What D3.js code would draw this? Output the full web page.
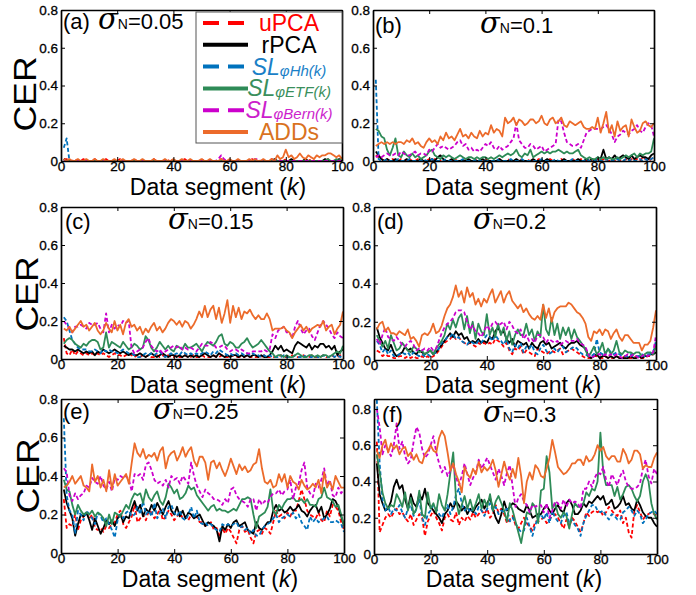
<!DOCTYPE html>
<html>
<head>
<meta charset="utf-8">
<script src="https://cdn.jsdelivr.net/npm/d3@7"></script>
<style>
  body { margin: 0; background: #fff; }
  svg text { font-family: "Liberation Sans", Arial, Helvetica, sans-serif; }
</style>
</head>
<body>
<div id="chart"></div>
<script>
// data segment index k and shared tick values
var segments = d3.range(1, 101);
var xTickValues = [0, 20, 40, 60, 80, 100];
var yTickValues = [0, 0.2, 0.4, 0.6, 0.8];
var methods = ["uPCA", "rPCA", "SL_Hh", "SL_ETF", "SL_Bern", "ADDs"];
var panelTags = ["(a)", "(b)", "(c)", "(d)", "(e)", "(f)"];
var noiseLevels = ["0.05", "0.1", "0.15", "0.2", "0.25", "0.3"];
var yMax = [0.8, 0.8, 0.8, 0.8, 0.8, 0.855];

// CER values, in hundredths, one entry per data segment k = 1..100
// (a) sigma_N = 0.05
var a_uPCA = [1,1,0,0,1,0,0,1,0,0, 0,1,0,0,0,1,0,0,0,0, 1,0,0,0,0,1,0,0,0,0, 0,0,1,0,0,0,0,0,1,0, 0,0,0,1,0,0,0,0,0,1,
              0,0,0,0,0,0,1,0,0,0, 0,0,0,0,0,0,0,1,0,0, 0,0,0,0,1,0,0,0,0,1, 0,0,0,0,0,0,0,0,1,0, 0,0,0,0,1,0,0,1,0,0];
var a_rPCA = [1,0,0,0,0,0,0,0,0,0, 0,0,0,0,0,0,0,0,0,0, 0,0,0,0,0,0,0,0,0,0, 0,0,0,0,0,0,0,0,0,0, 0,0,0,0,0,0,0,0,0,0,
              0,0,0,0,0,0,0,0,0,0, 0,0,0,0,0,0,0,0,0,0, 0,0,0,0,0,1,0,0,0,0, 0,1,0,0,0,0,1,0,0,0, 0,0,0,1,0,0,0,0,1,0];
var a_Hh   = [7,12,0,0,0,0,0,0,0,0, 0,0,0,0,0,0,0,0,0,0, 0,0,0,0,0,0,0,0,0,0, 0,0,0,0,0,0,0,0,0,0, 0,0,0,0,0,0,0,0,0,0,
              0,0,0,0,0,0,0,0,0,0, 0,0,0,0,0,0,0,0,0,0, 0,0,0,0,0,0,0,0,0,0, 0,0,0,0,0,0,0,0,0,0, 0,0,0,0,0,0,0,0,0,0];
var a_ETF  = [0,0,0,0,0,0,0,0,0,0, 0,0,0,0,0,0,0,0,0,0, 0,0,0,0,0,0,0,0,0,0, 0,0,0,0,0,0,0,0,0,0, 0,0,0,0,0,0,0,0,0,0,
              0,0,0,0,0,0,0,0,0,0, 0,0,0,0,0,0,0,0,0,0, 0,0,0,0,0,0,0,0,0,0, 0,0,0,0,0,0,0,0,0,0, 0,0,0,0,1,0,0,1,0,2];
var a_Bern = [0,0,0,0,0,0,0,0,0,0, 0,0,0,0,0,0,0,0,0,0, 0,0,0,0,0,0,0,0,0,0, 0,0,0,0,0,0,0,0,0,0, 0,0,0,0,0,0,0,0,0,0,
              0,0,0,0,0,1,3,1,0,0, 0,0,0,0,0,0,0,0,1,1, 0,0,0,0,0,0,0,0,0,0, 0,0,0,0,0,0,0,0,0,0, 0,0,0,0,0,0,0,0,0,0];
var a_ADDs = [1,0,1,0,0,1,0,0,1,0, 0,1,0,0,1,0,0,0,1,0, 0,1,0,0,0,1,0,0,1,0, 0,0,1,0,0,0,1,0,0,1, 0,0,1,0,0,1,0,0,0,1,
              0,0,1,0,0,0,1,0,0,1, 0,0,1,0,0,0,1,0,1,0, 0,1,0,0,1,0,3,1,2,6, 2,3,1,2,4,2,1,3,2,1, 3,2,3,3,4,4,3,2,3,1];

// (b) sigma_N = 0.1
var b_uPCA = [3,2,1,0,1,0,1,0,0,1, 0,0,1,0,0,1,0,0,0,1, 0,1,0,0,1,0,0,0,1,0, 0,0,1,0,0,0,1,0,0,0, 1,0,0,0,1,0,0,1,0,0,
              0,1,0,0,0,1,0,0,1,0, 0,0,1,0,0,0,1,0,0,0, 1,0,0,1,0,0,0,1,0,1, 0,1,0,0,1,0,1,0,0,1, 0,1,0,1,0,2,1,0,1,2];
var b_rPCA = [5,3,1,0,1,0,0,1,0,0, 0,1,0,0,0,0,1,0,0,0, 1,0,2,3,1,0,0,1,0,0, 0,0,0,1,0,0,0,0,1,0, 0,0,0,0,1,0,0,0,0,0,
              1,0,0,0,0,0,1,0,0,0, 0,1,0,0,0,0,0,1,0,0, 0,0,1,0,0,1,0,1,0,2, 1,6,1,2,1,3,1,2,3,2, 1,3,1,2,3,2,2,1,3,4];
var b_Hh   = [43,1,0,0,1,0,0,0,1,0, 0,0,1,0,0,0,0,1,0,0, 1,0,0,0,0,1,0,0,0,0, 0,1,0,0,0,0,1,0,0,0, 0,0,0,1,0,0,0,0,1,0,
              0,0,1,0,0,0,0,0,0,1, 0,0,0,0,1,0,0,0,0,0, 1,0,0,0,0,1,0,0,0,1, 0,0,1,0,0,0,1,0,0,1, 0,1,0,0,1,0,1,0,1,2];
var b_ETF  = [17,16,13,12,6,3,7,12,3,2, 5,3,2,4,2,3,1,2,3,5, 6,3,2,1,3,2,3,2,1,2, 3,2,1,2,2,1,2,1,2,2, 1,2,1,2,3,2,3,4,3,4,
              6,3,2,4,3,6,2,3,4,5, 4,5,4,5,5,6,5,4,5,4, 4,5,6,3,2,1,2,1,1,2, 1,2,1,2,1,1,2,1,2,3, 2,3,4,2,4,3,4,4,5,12];
var b_Bern = [2,3,2,3,4,3,3,4,3,5, 4,3,3,4,5,3,4,4,3,6, 5,7,9,7,8,7,6,7,8,10, 11,8,9,6,7,5,6,5,7,9, 8,10,7,6,8,6,7,8,10,12,
              20,11,9,7,7,9,8,6,7,8, 5,6,7,8,9,22,21,15,10,9, 8,8,9,7,11,15,16,17,17,17, 17,18,19,17,14,10,13,14,16,15, 14,16,17,19,16,15,18,20,19,13];
var b_ADDs = [8,9,10,9,10,9,10,9,10,10, 9,11,10,12,9,10,8,7,10,12, 10,11,9,13,11,15,12,13,11,14, 17,13,14,12,15,13,12,16,13,15, 14,19,15,17,16,13,23,20,21,23,
              19,22,21,19,20,22,22,20,21,24, 20,19,22,23,20,21,23,19,18,21, 20,19,20,21,18,17,17,18,17,23, 15,20,26,15,19,13,21,16,18,19, 13,22,18,15,16,20,21,19,18,20];

// (c) sigma_N = 0.15
var c_uPCA = [11,3,2,5,2,4,3,2,3,2, 3,2,3,2,3,2,1,2,3,2, 2,1,2,3,2,1,2,1,2,1, 2,1,1,2,1,2,1,2,1,1, 2,1,1,2,1,1,2,1,1,2,
              1,1,1,2,1,1,2,1,1,1, 2,1,1,1,1,2,1,1,1,1, 1,2,1,1,1,1,1,2,1,1, 1,2,1,1,1,2,1,1,2,1, 1,1,2,1,1,2,1,1,2,1];
var c_rPCA = [7,6,5,5,4,5,4,3,4,3, 4,2,4,3,5,4,3,4,5,4, 3,4,3,2,3,2,2,3,2,1, 2,3,2,1,2,3,2,1,2,2, 1,2,1,2,1,2,1,2,1,2,
              3,2,1,2,1,3,2,1,2,1, 2,2,1,2,1,2,1,2,2,1, 2,1,1,2,4,7,5,7,4,5, 4,3,7,9,8,7,6,8,5,7, 6,8,8,6,7,5,7,2,4,5];
var c_Hh   = [22,20,15,10,8,6,5,5,5,4, 4,5,4,3,5,4,5,4,4,3, 4,5,4,3,3,2,1,1,2,3, 2,3,2,3,4,2,1,2,3,2, 3,2,4,3,2,3,2,3,2,3,
              4,3,2,4,3,5,4,3,2,3, 2,3,2,3,2,3,2,3,2,2, 1,2,1,2,1,1,1,1,2,1, 1,1,2,1,1,2,1,1,1,2, 1,1,2,1,1,2,1,2,1,2];
var c_ETF  = [8,10,11,10,8,7,6,8,7,9, 10,10,9,5,6,14,6,9,8,7, 6,9,7,5,6,8,7,5,6,12, 10,6,4,6,9,7,5,7,5,4, 7,6,5,8,6,6,7,8,6,4,
              7,9,8,7,9,12,13,8,7,9, 8,6,6,8,9,11,8,6,7,8, 10,8,6,4,3,1,2,2,1,2, 1,1,2,3,2,1,1,2,2,1, 2,1,2,2,1,2,3,4,3,7];
var c_Bern = [20,18,16,14,17,17,18,17,16,19, 18,18,19,16,14,24,14,18,16,18, 17,20,19,20,6,3,4,5,6,9, 11,7,5,4,5,3,4,5,6,7, 6,7,5,6,5,6,5,4,6,8,
              7,7,9,8,6,6,7,7,5,4, 5,5,4,5,4,3,3,4,4,4, 4,5,4,5,13,11,15,16,17,14, 14,11,17,20,16,13,15,16,12,10, 14,18,20,18,16,13,11,14,12,11];
var c_ADDs = [16,15,17,14,16,18,20,17,18,15, 17,19,15,13,15,19,16,14,20,15, 18,13,19,21,17,18,15,17,13,16, 14,17,19,15,17,14,16,19,21,20, 18,20,17,20,19,16,18,21,25,22,
              28,22,26,28,21,27,19,24,31,19, 28,22,27,21,25,24,26,23,21,23, 21,21,24,21,15,16,16,16,17,15, 14,11,14,16,18,15,17,14,16,17, 18,17,20,15,17,18,13,16,18,25];

// (d) sigma_N = 0.2
var d_uPCA = [5,4,2,3,2,2,1,1,2,2, 1,2,1,2,1,1,2,1,2,1, 2,3,5,7,9,10,11,13,11,12, 10,9,8,9,8,7,9,8,9,8, 9,8,11,10,9,7,9,5,3,6,
              5,7,3,5,4,3,2,6,5,4, 3,4,5,4,5,6,3,4,5,6, 5,4,3,2,1,1,1,2,2,1, 1,2,1,1,1,2,1,1,2,1, 1,1,2,1,1,1,2,2,3,8];
var d_rPCA = [17,12,9,6,5,8,4,2,3,4, 7,5,6,4,3,5,4,3,4,5, 3,4,6,8,10,12,14,12,15,13, 14,11,12,9,10,9,11,9,10,9, 12,11,15,17,14,15,11,9,11,7,
              10,9,8,9,6,9,7,6,9,10, 8,9,6,7,8,9,7,6,8,9, 9,10,8,7,6,2,1,2,3,1, 2,2,1,2,1,2,1,1,1,1, 2,1,1,2,1,2,2,3,3,4];
var d_Hh   = [10,8,4,6,3,5,2,2,3,4, 3,4,2,4,3,2,3,2,3,2, 3,4,6,9,10,12,12,14,11,12, 10,9,8,10,9,8,10,9,11,13, 12,10,13,11,10,8,11,6,4,8,
              6,9,4,7,6,8,4,3,6,8, 5,3,4,6,4,6,7,4,5,6, 7,6,4,3,3,2,2,3,11,4, 3,3,6,4,3,4,3,2,2,2, 3,2,2,2,3,2,3,3,4,10];
var d_ETF  = [13,10,7,10,6,13,9,5,6,9, 7,5,4,7,6,4,5,3,4,5, 3,6,8,10,13,19,16,21,17,22, 24,16,23,14,20,11,19,15,13,24, 13,17,12,19,13,17,10,15,8,13,
              16,13,13,19,13,16,10,15,12,29, 16,13,22,13,19,11,17,13,17,11, 16,12,10,8,5,2,4,7,3,5, 9,3,6,3,5,10,4,3,5,4, 4,3,4,4,2,3,4,4,3,7];
var d_Bern = [11,8,13,17,12,11,10,12,10,8, 7,9,10,8,5,6,5,6,5,7, 5,6,10,14,17,19,20,22,25,26, 26,25,20,16,18,15,14,12,15,18, 16,19,20,18,19,20,16,20,18,15,
              14,16,11,13,10,11,9,13,13,12, 9,11,10,9,10,8,9,10,9,10, 10,11,9,8,7,3,1,2,3,3, 2,3,2,3,2,3,2,1,2,3, 2,3,2,1,2,3,2,3,4,13];
var d_ADDs = [16,19,20,15,17,14,14,13,15,14, 13,16,11,12,10,7,13,14,13,15, 19,14,15,18,23,27,29,33,39,33, 36,30,38,33,35,29,32,28,32,30, 34,37,30,33,36,30,34,36,31,29,
              27,29,25,27,24,22,21,23,21,29, 22,27,20,25,27,28,28,28,30,29, 27,25,24,22,19,12,10,15,14,16, 13,16,15,11,14,16,12,10,13,13, 11,9,9,9,5,8,8,10,17,26];

// (e) sigma_N = 0.25
var e_uPCA = [28,13,15,14,20,12,17,19,21,18, 20,13,12,13,11,14,13,15,16,20, 22,15,13,16,19,25,16,18,20,17, 22,21,18,20,23,17,19,22,20,17, 19,21,18,19,17,20,18,19,16,16,
              14,15,16,12,13,9,13,10,13,11, 8,5,12,14,11,12,8,5,11,12, 10,13,12,10,16,22,19,20,18,21, 19,22,22,27,33,28,22,20,19,18, 21,17,16,22,19,25,24,22,16,12];
var e_rPCA = [33,26,22,18,9,15,20,19,21,17, 12,18,14,10,13,17,15,17,14,18, 20,16,19,18,23,27,22,25,19,23, 21,25,22,26,23,20,24,27,22,20, 24,19,22,18,21,20,18,19,20,17,
              14,16,15,14,12,6,14,12,15,13, 16,17,14,15,16,12,11,10,16,13, 12,14,16,16,22,25,22,23,21,22, 24,22,23,25,22,21,19,22,24,25, 21,24,18,20,23,28,27,24,19,14];
var e_Hh   = [70,30,22,20,10,22,20,17,22,20, 18,15,21,19,16,18,15,12,8,17, 20,18,21,22,19,20,24,20,27,20, 22,19,26,18,21,23,18,24,25,21, 19,22,18,17,20,24,18,22,16,15,
              16,14,15,13,12,11,15,14,15,14, 15,16,13,14,12,13,10,12,9,9, 12,14,15,16,18,20,16,18,19,20, 19,21,18,20,16,14,12,19,16,18, 16,17,18,19,16,16,17,16,15,11];
var e_ETF  = [38,33,32,25,20,25,22,20,21,20, 22,19,21,20,18,14,20,15,21,20, 19,22,25,23,28,31,30,31,26,33, 29,27,30,32,27,25,29,36,34,31, 33,28,29,31,35,33,34,30,28,26,
              24,22,24,25,22,23,22,22,21,22, 23,22,25,28,28,29,28,20,13,19, 20,21,24,33,22,20,25,23,26,28, 28,29,27,27,28,26,28,25,25,24, 28,29,34,29,28,27,24,25,20,14];
var e_Bern = [44,42,30,27,31,28,30,31,35,34, 39,37,36,40,35,33,37,32,39,38, 40,39,40,38,32,41,40,41,38,46, 47,43,38,36,37,35,38,34,40,38, 39,36,40,38,36,47,40,35,32,29,
              33,31,30,28,28,27,25,28,26,33, 34,30,28,27,26,24,28,28,22,28, 25,27,26,29,31,31,33,30,32,33, 38,28,34,36,43,47,34,31,29,36, 34,38,44,35,38,30,29,34,31,33];
var e_ADDs = [34,35,37,40,36,38,40,35,34,32, 46,37,40,34,38,32,43,33,41,35, 37,39,41,36,47,57,52,50,54,49, 51,50,52,48,53,55,44,50,52,53, 48,51,55,50,53,55,48,45,50,50,
              47,38,47,48,44,47,43,40,44,49, 45,41,46,43,45,42,43,46,47,54, 44,37,36,38,34,35,41,37,41,34, 40,37,36,33,38,35,33,34,36,34, 38,31,42,34,37,33,40,37,34,34];

// (f) sigma_N = 0.3
var f_uPCA = [62,12,16,20,22,20,23,25,22,23, 20,18,22,16,19,22,20,10,18,21, 24,20,17,13,20,22,19,18,23,16, 20,18,21,19,23,20,22,24,22,25, 20,22,27,23,25,22,17,19,21,16,
              14,17,20,17,15,13,18,18,19,20, 17,19,21,22,20,17,14,19,15,20, 18,15,12,17,23,21,23,24,23,24, 21,23,26,24,22,21,24,17,20,12, 9,24,27,23,19,21,22,23,22,21];
var f_rPCA = [50,33,28,24,25,29,37,41,36,38, 30,25,33,28,26,33,30,36,28,26, 24,22,20,17,22,24,28,25,29,27, 24,26,22,25,23,26,28,30,25,28, 31,25,20,17,22,29,24,26,28,27,
              25,24,23,27,24,20,21,22,22,25, 27,24,22,25,27,24,23,28,30,27, 22,22,24,28,26,29,28,30,32,30, 32,27,28,30,25,26,28,32,27,28, 25,24,30,27,23,21,20,20,17,15];
var f_Hh   = [85,50,30,24,26,22,25,24,27,23, 20,25,27,21,25,30,20,16,22,24, 27,25,22,20,24,27,22,26,33,36, 28,24,26,23,25,22,26,24,21,25, 28,24,26,22,24,23,25,18,20,17,
              14,12,13,20,15,10,16,20,22,19, 23,17,24,20,18,17,21,23,17,19, 16,14,10,17,21,24,27,27,24,23, 24,21,19,22,21,19,19,23,24,26, 24,21,24,22,17,19,22,23,24,22];
var f_ETF  = [55,45,34,28,25,27,26,33,30,26, 34,24,31,22,25,35,22,20,34,25, 28,23,33,27,24,33,45,56,30,22, 27,32,25,30,24,28,33,25,30,26, 33,24,29,32,28,24,18,28,24,18,
              12,6,15,23,22,28,26,17,35,36, 54,45,25,28,22,20,23,21,14,22, 28,26,26,28,34,32,36,35,40,67, 45,38,38,38,32,37,30,33,37,38, 36,32,29,32,40,44,40,28,22,19];
var f_Bern = [80,70,55,60,57,54,60,72,58,62, 54,50,52,62,70,67,58,53,55,60, 65,56,50,45,48,43,46,50,42,38, 43,50,44,38,42,45,52,47,50,53, 49,45,41,47,43,38,45,49,37,26,
              31,33,29,27,23,27,26,27,27,23, 28,20,24,29,28,25,30,26,30,28, 29,28,25,36,36,40,37,42,45,44, 48,41,37,44,41,38,43,46,40,37, 36,36,37,39,47,52,43,39,47,44];
var f_ADDs = [57,53,60,63,56,61,58,60,55,58, 59,54,56,52,55,51,50,55,57,60, 57,56,64,68,65,56,46,50,44,40, 34,48,44,42,47,44,51,45,48,46, 48,52,46,37,44,51,45,41,47,42,
              53,43,28,40,45,41,49,47,43,42, 47,53,63,56,48,46,44,45,47,50, 50,52,52,49,54,51,52,55,60,57, 59,54,52,54,54,51,51,58,55,50, 52,57,57,55,47,49,48,48,53,56];

var panelSeries = [
  [a_uPCA, a_rPCA, a_Hh, a_ETF, a_Bern, a_ADDs],
  [b_uPCA, b_rPCA, b_Hh, b_ETF, b_Bern, b_ADDs],
  [c_uPCA, c_rPCA, c_Hh, c_ETF, c_Bern, c_ADDs],
  [d_uPCA, d_rPCA, d_Hh, d_ETF, d_Bern, d_ADDs],
  [e_uPCA, e_rPCA, e_Hh, e_ETF, e_Bern, e_ADDs],
  [f_uPCA, f_rPCA, f_Hh, f_ETF, f_Bern, f_ADDs]
];

var styles = [
  { color: "#ff0000", dash: "4,2.5" },
  { color: "#000000", dash: null },
  { color: "#0072bd", dash: "4,2.5" },
  { color: "#2e8b57", dash: null },
  { color: "#cc00cc", dash: "4,2.5" },
  { color: "#ec6b2b", dash: null }
];

// pixel boxes of the six axes, and where their labels sit
var layout = [
  { l: 61,  r: 342, t: 10,  b: 161, tag: [63, 29],   sig: [98, 29],   xl: [218, 195], cer: [25, 94] },
  { l: 373, r: 654, t: 10,  b: 161, tag: [375, 33],  sig: [480, 33],  xl: [513, 195], cer: null },
  { l: 61,  r: 343, t: 207, b: 359, tag: [65, 229],  sig: [168, 229], xl: [218, 393], cer: [27, 294] },
  { l: 374, r: 656, t: 207, b: 360, tag: [377, 229], sig: [473, 229], xl: [513, 393], cer: null },
  { l: 61,  r: 344, t: 399, b: 553, tag: [63, 419],  sig: [153, 419], xl: [210, 587], cer: [28, 476] },
  { l: 374, r: 657, t: 399, b: 554, tag: [382, 422], sig: [483, 422], xl: [514, 587], cer: null }
];

var svg = d3.select("#chart").append("svg")
    .attr("width", 696)
    .attr("height", 595);

var fmtY = function(d) { return d === 0 ? "0" : d3.format(".1f")(d); };

layout.forEach(function(p, i) {
  var x = d3.scaleLinear().domain([0, 100]).range([p.l, p.r]),
      y = d3.scaleLinear().domain([0, yMax[i]]).range([p.b, p.t]),
      g = svg.append("g");

  g.append("clipPath").attr("id", "clip" + i)
    .append("rect")
    .attr("x", p.l).attr("y", p.t)
    .attr("width", p.r - p.l).attr("height", p.b - p.t);

  var line = d3.line()
      .x(function(d, j) { return x(segments[j]); })
      .y(function(d) { return y(d / 100); });

  panelSeries[i].forEach(function(vals, s) {
    g.append("path")
      .attr("clip-path", "url(#clip" + i + ")")
      .attr("d", line(vals))
      .attr("fill", "none")
      .attr("stroke", styles[s].color)
      .attr("stroke-width", 1.8)
      .attr("stroke-linejoin", "round")
      .attr("stroke-dasharray", styles[s].dash);
  });

  var axB = g.append("g").attr("transform", "translate(0," + p.b + ")")
      .call(d3.axisBottom(x).tickValues(xTickValues).tickSize(-4).tickSizeOuter(0).tickPadding(0));
  var axL = g.append("g").attr("transform", "translate(" + p.l + ",0)")
      .call(d3.axisLeft(y).tickValues(yTickValues).tickFormat(fmtY).tickSize(-4).tickSizeOuter(0).tickPadding(3));
  var axT = g.append("g").attr("transform", "translate(0," + p.t + ")")
      .call(d3.axisTop(x).tickValues(xTickValues).tickFormat("").tickSize(-4).tickSizeOuter(0));
  var axR = g.append("g").attr("transform", "translate(" + p.r + ",0)")
      .call(d3.axisRight(y).tickValues(yTickValues).tickFormat("").tickSize(-4).tickSizeOuter(0));

  [axB, axL, axT, axR].forEach(function(a) {
    a.select(".domain").attr("stroke", "#000").attr("stroke-width", 1.7);
    a.selectAll(".tick line").attr("stroke", "#000").attr("stroke-width", 1);
    a.selectAll("text").attr("font-size", 13.5).attr("fill", "#000")
      .attr("stroke", "#000").attr("stroke-width", 0.3)
      .style("font-family", "'Liberation Sans', Arial, sans-serif");
  });

  // x label
  var xl = g.append("text")
      .attr("x", p.xl[0]).attr("y", p.xl[1])
      .attr("text-anchor", "middle")
      .attr("font-size", 23);
  xl.append("tspan").text("Data segment (");
  xl.append("tspan").attr("font-style", "italic").text("k");
  xl.append("tspan").text(")");

  // y label
  if (p.cer) {
    g.append("text")
      .attr("transform", "translate(" + p.cer[0] + "," + p.cer[1] + ") rotate(-90) scale(1.15,1)")
      .attr("text-anchor", "middle")
      .attr("dominant-baseline", "central")
      .attr("font-size", 31)
      .text("CER");
  }

  // panel title
  g.append("text")
    .attr("x", p.tag[0]).attr("y", p.tag[1])
    .attr("font-size", 22)
    .text(panelTags[i]);
  var st = g.append("text")
      .attr("x", p.sig[0]).attr("y", p.sig[1]);
  st.append("tspan").attr("font-size", 29).attr("font-style", "italic")
    .style("font-family", "'DejaVu Serif', serif").text("σ");
  st.append("tspan").attr("font-size", 14).text("N");
  st.append("tspan").attr("font-size", 22).text("=" + noiseLevels[i]);
});

// legend inside panel (a)
var legendLabels = [
  { main: "uPCA", sub: null, italic: false, color: "#ff0000" },
  { main: "rPCA", sub: null, italic: false, color: "#000000" },
  { main: "SL", sub: "φHh(k)", italic: true, color: "#1a7fc7" },
  { main: "SL", sub: "φETF(k)", italic: true, color: "#3a8f5c" },
  { main: "SL", sub: "φBern(k)", italic: true, color: "#cc1ecc" },
  { main: "ADDs", sub: null, italic: false, color: "#d9731f" }
];

var lg = svg.append("g");
lg.append("rect")
  .attr("x", 196).attr("y", 12)
  .attr("width", 146).attr("height", 131)
  .attr("fill", "#fff").attr("stroke", "#555").attr("stroke-width", 1);

var rowY = d3.scalePoint().domain(d3.range(6)).range([23, 132]);

legendLabels.forEach(function(e, s) {
  var yy = rowY(s);
  lg.append("line")
    .attr("x1", 203).attr("x2", 248)
    .attr("y1", yy).attr("y2", yy)
    .attr("stroke", styles[s].color)
    .attr("stroke-width", 4)
    .attr("stroke-dasharray", styles[s].dash ? "16,9" : null);
  var t = lg.append("text")
      .attr("x", 289).attr("y", yy + 8)
      .attr("text-anchor", "middle")
      .attr("fill", e.color);
  t.append("tspan").attr("font-size", 23).attr("font-style", e.italic ? "italic" : null).text(e.main);
  if (e.sub) {
    t.append("tspan").attr("font-size", 15).attr("font-style", "italic").attr("dy", 1).text(e.sub);
  }
});
</script>
</body>
</html>
